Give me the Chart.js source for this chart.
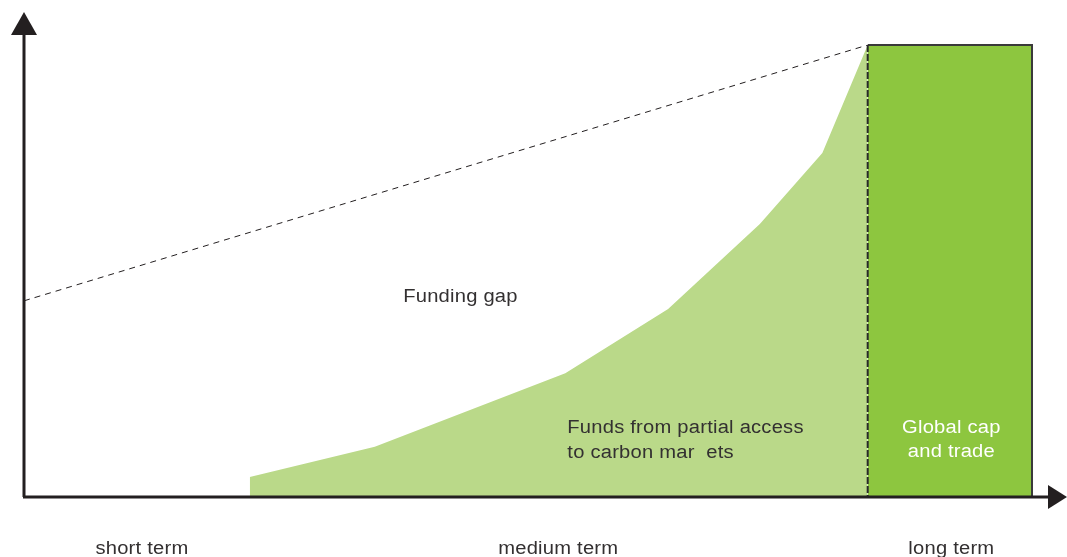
<!DOCTYPE html>
<html>
<head>
<meta charset="utf-8">
<script src="https://cdn.jsdelivr.net/npm/chart.js@4"></script>
<style>
  html, body { margin: 0; padding: 0; background: #fff; }
  #wrap { width: 1067px; height: 557px; }
</style>
</head>
<body>
<div id="wrap"><canvas id="myChart" width="1067" height="557"></canvas></div>
<script>
// data, in arbitrary units: x = time (0..100), y = funding (0..100)
var gapX = [0, 83.7];
var gapY = [43.4, 100];
var partialX = [22.4, 34.8, 53.7, 63.9, 73.0, 79.2, 83.7];
var partialY = [4.4, 11.1, 27.4, 41.6, 60.4, 76.1, 100];
var capX = [83.7, 100];
var capY = [100, 100];
var periodLabels = ['short term', 'medium term', 'long term'];
var periodX = [11.7, 53.0, 92.0];

function toPoints(xs, ys) {
    var out = [];
    for (var i in xs) {
        out.push({x: xs[i], y: ys[i]});
    }
    return out;
}

var textColor = '#333031';
var fontFamily = '"Liberation Sans", Arial, sans-serif';

// the original type is a bit wider than Arial, so stretch it
function wideText(ctx, txt, x, y) {
    ctx.save();
    ctx.translate(x, y);
    ctx.scale(1.12, 1);
    ctx.fillText(txt, 0, 0);
    ctx.restore();
}

// axes with arrows and labels
var decorPlugin = {
    id: 'decor',
    afterDatasetsDraw: function(chart) {
        var ctx = chart.ctx;
        var xs = chart.scales.x, ys = chart.scales.y;
        var x0 = xs.getPixelForValue(0), y0 = ys.getPixelForValue(0);
        var capLeft = xs.getPixelForValue(capX[0]);
        var capRight = xs.getPixelForValue(capX[1]);
        var capTop = ys.getPixelForValue(capY[0]);
        ctx.save();
        // cap and trade border
        ctx.strokeStyle = '#3a3a3a';
        ctx.lineWidth = 2;
        ctx.beginPath();
        ctx.moveTo(capLeft, capTop);
        ctx.lineTo(capRight, capTop);
        ctx.lineTo(capRight, y0);
        ctx.stroke();
        ctx.strokeStyle = '#2a2a2a';
        ctx.setLineDash([7, 2]);
        ctx.beginPath();
        ctx.moveTo(capLeft, capTop);
        ctx.lineTo(capLeft, y0);
        ctx.stroke();
        ctx.setLineDash([]);

        // axes
        ctx.strokeStyle = '#231f20';
        ctx.fillStyle = '#231f20';
        ctx.lineWidth = 3;
        ctx.beginPath();
        ctx.moveTo(x0, y0);
        ctx.lineTo(x0, 32);
        ctx.moveTo(x0 - 1, y0);
        ctx.lineTo(1050, y0);
        ctx.stroke();
        ctx.beginPath();
        ctx.moveTo(x0, 12);
        ctx.lineTo(x0 - 13, 35);
        ctx.lineTo(x0 + 13, 35);
        ctx.closePath();
        ctx.fill();
        ctx.beginPath();
        ctx.moveTo(1067, y0);
        ctx.lineTo(1048, y0 - 12);
        ctx.lineTo(1048, y0 + 12);
        ctx.closePath();
        ctx.fill();

        // texts
        ctx.font = '18px ' + fontFamily;
        ctx.letterSpacing = '0.2px';
        ctx.textBaseline = 'middle';
        ctx.fillStyle = textColor;
        ctx.textAlign = 'center';
        wideText(ctx, 'Funding gap', xs.getPixelForValue(43.3), ys.getPixelForValue(44.3));
        ctx.textAlign = 'left';
        wideText(ctx, 'Funds from partial access', xs.getPixelForValue(53.9), ys.getPixelForValue(15.3));
        wideText(ctx, 'to carbon mar  ets', xs.getPixelForValue(53.9), ys.getPixelForValue(9.8));
        ctx.fillStyle = '#ffffff';
        ctx.textAlign = 'center';
        wideText(ctx, 'Global cap', xs.getPixelForValue(92.0), ys.getPixelForValue(15.3));
        wideText(ctx, 'and trade', xs.getPixelForValue(92.0), ys.getPixelForValue(10.0));
        ctx.fillStyle = textColor;
        for (var i in periodLabels) {
            wideText(ctx, periodLabels[i], xs.getPixelForValue(periodX[i]), 549);
        }
        ctx.restore();
    }
};

window.onload = () => {
    var ctx = document.getElementById('myChart').getContext('2d');
    var myChart = new Chart(ctx, {
        type: 'scatter',
        data: {
            datasets: [{
                label: 'Global cap and trade',
                data: toPoints(capX, capY),
                showLine: true,
                fill: 'origin',
                backgroundColor: '#8dc63f',
                borderWidth: 0,
                pointRadius: 0,
                order: 3
            }, {
                label: 'Funds from partial access to carbon markets',
                data: toPoints(partialX, partialY),
                showLine: true,
                fill: 'origin',
                backgroundColor: '#bad989',
                borderColor: '#bad989',
                borderWidth: 0,
                pointRadius: 0,
                tension: 0,
                order: 2
            }, {
                label: 'Funding gap',
                data: toPoints(gapX, gapY),
                showLine: true,
                fill: false,
                borderColor: '#231f20',
                borderWidth: 1,
                borderDash: [6, 5],
                pointRadius: 0,
                order: 1
            }]
        },
        options: {
            responsive: false,
            animation: false,
            layout: { padding: { left: 24, right: 35, top: 45, bottom: 60 } },
            plugins: {
                legend: { display: false },
                tooltip: { enabled: false }
            },
            scales: {
                x: { type: 'linear', min: 0, max: 100, display: false },
                y: { type: 'linear', min: 0, max: 100, display: false }
            }
        },
        plugins: [decorPlugin]
    });
};
</script>
</body>
</html>
